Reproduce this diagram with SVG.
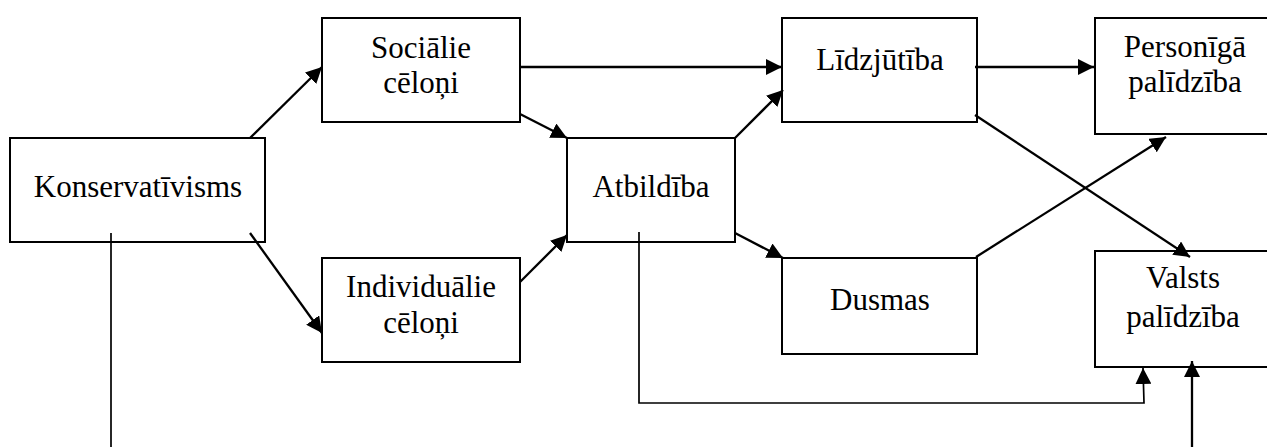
<svg xmlns="http://www.w3.org/2000/svg" width="1267" height="447" viewBox="0 0 1267 447">
<defs>
<style>
.box{fill:#fff;stroke:#000;stroke-width:2}
.lbl{font-family:"Liberation Serif","Times New Roman",serif;font-size:31px;fill:#000;text-anchor:middle}
.c{fill:none;stroke:#000;stroke-width:2.3}
.t{fill:none;stroke:#000;stroke-width:1.7}
</style>
<marker id="ah" markerUnits="userSpaceOnUse" markerWidth="17" markerHeight="16" refX="16" refY="8" orient="auto">
<path d="M0,0 L16,8 L0,16 z" fill="#000"/>
</marker>
</defs>
<rect width="1267" height="447" fill="#fff"/>
<g id="n-konservativisms"><rect class="box" x="10" y="138" width="255" height="104"/><text class="lbl" x="138" y="197">Konservatīvisms</text></g>
<g id="n-socialie"><rect class="box" x="322" y="18" width="198" height="104"/><text class="lbl" x="421" y="58">Sociālie</text><text class="lbl" x="421" y="93">cēloņi</text></g>
<g id="n-individualie"><rect class="box" x="322" y="258" width="198" height="104"/><text class="lbl" x="421" y="297">Individuālie</text><text class="lbl" x="421" y="333">cēloņi</text></g>
<g id="n-atbildiba"><rect class="box" x="567" y="138" width="168" height="104"/><text class="lbl" x="651" y="197">Atbildība</text></g>
<g id="n-lidzjutiba"><rect class="box" x="782" y="18" width="195" height="104"/><text class="lbl" x="880" y="70">Līdzjūtība</text></g>
<g id="n-dusmas"><rect class="box" x="782" y="258" width="195" height="96"/><text class="lbl" x="880" y="310">Dusmas</text></g>
<g id="n-personiga"><rect class="box" x="1095" y="18" width="190" height="116"/><text class="lbl" x="1185" y="57">Personīgā</text><text class="lbl" x="1185" y="92">palīdzība</text></g>
<g id="n-valsts"><rect class="box" x="1095" y="251" width="190" height="116"/><text class="lbl" x="1183" y="288">Valsts</text><text class="lbl" x="1183" y="327">palīdzība</text></g>
<g id="connectors">
<path class="c" d="M250,138 L322,67" marker-end="url(#ah)"/>
<path class="c" d="M250,233 L322,333" marker-end="url(#ah)"/>
<path class="c" d="M520,114 L567,138" marker-end="url(#ah)"/>
<path class="c" d="M520,282 L567,235" marker-end="url(#ah)"/>
<path class="c" d="M520,67 L782,67" marker-end="url(#ah)"/>
<path class="c" d="M735,138 L783,90" marker-end="url(#ah)"/>
<path class="c" d="M735,233 L783,258" marker-end="url(#ah)"/>
<path class="c" d="M975,67 L1094,67" marker-end="url(#ah)"/>
<path class="c" d="M975,115 L1190,257" marker-end="url(#ah)"/>
<path class="c" d="M976,257 L1166,137" marker-end="url(#ah)"/>
<path class="t" d="M639,232 L639,403 L1144,403 L1143,368" marker-end="url(#ah)"/>
<path class="t" d="M111,233 L111,447"/>
<path class="c" d="M1192,447 L1192,361" marker-end="url(#ah)"/>
</g>
</svg>
